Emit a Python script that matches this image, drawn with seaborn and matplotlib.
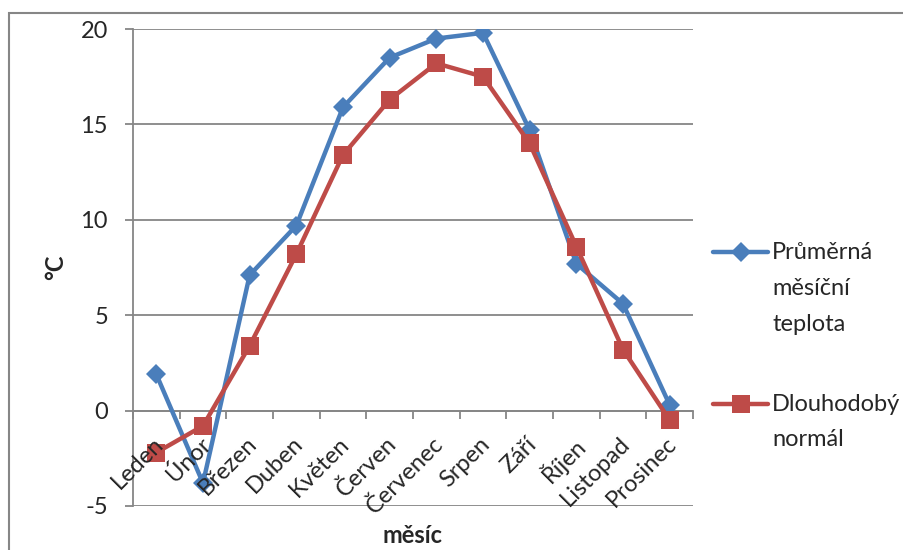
import matplotlib
matplotlib.use("Agg")
import matplotlib.pyplot as plt
import matplotlib.patches as mpatches
import matplotlib.transforms as mtransforms
from matplotlib.legend_handler import HandlerLine2D
from matplotlib.ticker import FixedLocator
import seaborn as sns
import pandas as pd
import numpy as np

months = ["Leden", "Únor", "Březen", "Duben", "Květen", "Červen",
          "Červenec", "Srpen", "Září", "Říjen", "Listopad", "Prosinec"]
avg_temp = [1.9, -3.8, 7.1, 9.7, 15.9, 18.5, 19.5, 19.8, 14.7, 7.7, 5.6, 0.3]
normal_temp = [-2.2, -0.8, 3.4, 8.2, 13.4, 16.3, 18.2, 17.5, 14.0, 8.6, 3.2, -0.5]
series_names = ["Průměrná měsíční teplota", "Dlouhodobý normál"]
legend_labels = ["Průměrná\nměsíční\nteplota", "Dlouhodobý\nnormál"]
y_ticks = [-5, 0, 5, 10, 15, 20]

df = pd.DataFrame({
    "pos": list(range(len(months))) * 2,
    "temp": avg_temp + normal_temp,
    "series": [series_names[0]] * len(months) + [series_names[1]] * len(months),
})

sns.set_theme(style="white")
plt.rcParams["font.family"] = ["Lato", "DejaVu Sans"]
plt.rcParams["axes.unicode_minus"] = False
FS = 17
grey = "#868686"
LS = 1.87  # legend line spacing

fig = plt.figure(figsize=(9.04, 5.5), dpi=100)
ax = fig.add_axes([133 / 904, 1 - 506 / 550, 560 / 904, 477 / 550])

palette = {series_names[0]: "#4A7EBB", series_names[1]: "#BE4B48"}
markers = {series_names[0]: "D", series_names[1]: "s"}
sns.lineplot(data=df, x="pos", y="temp", hue="series", style="series",
             palette=palette, markers=markers, dashes=False, sort=False,
             linewidth=3.2, markersize=11, markeredgewidth=0, ax=ax, legend=True)

for line in ax.lines:
    if line.get_marker() == "s":
        line.set_markersize(12.5)
    elif line.get_marker() == "D":
        line.set_markersize(10)

ax.set_xlim(-0.5, len(months) - 0.5)
ax.set_ylim(min(y_ticks), max(y_ticks))
ax.yaxis.set_major_locator(FixedLocator(y_ticks))
ax.grid(axis="y", color=grey, linewidth=1.3)
ax.set_axisbelow(True)
ax.xaxis.set_zorder(3)  # category labels drawn over the lines, as in the original

for s in ["top", "right"]:
    ax.spines[s].set_visible(False)
ax.spines["left"].set_color(grey)
ax.spines["left"].set_linewidth(1.3)
ax.spines["bottom"].set_position(("data", 0))
ax.spines["bottom"].set_color(grey)
ax.spines["bottom"].set_linewidth(1.3)
ax.spines["bottom"].set_zorder(1)

ax.set_xticks(range(len(months)))
ax.set_xticklabels(months, rotation=45, ha="right", va="top",
                   rotation_mode="anchor", fontsize=FS)
ax.xaxis.set_minor_locator(FixedLocator(np.arange(-0.5, len(months), 1.0)))
ax.tick_params(axis="x", which="major", length=0, pad=4)
ax.tick_params(axis="x", which="minor", length=5.5, width=1.3, color=grey,
               direction="out", bottom=True)
ax.tick_params(axis="y", length=6, width=1.3, color=grey, direction="out",
               left=True, labelsize=FS, pad=12)
offset = mtransforms.ScaledTranslation(-4 / 100, -17 / 100, fig.dpi_scale_trans)
for lab in ax.get_xticklabels():
    lab.set_transform(lab.get_transform() + offset)

ax.set_xlabel("měsíc", fontsize=FS, fontweight="bold", va="baseline")
ax.xaxis.set_label_coords(0.5, (506 - 543) / 477)
ax.set_ylabel("°C", fontsize=FS, fontweight="bold")
ax.yaxis.set_label_coords(-0.118, 0.5)


class ShiftedHandler(HandlerLine2D):
    def __init__(self, n_lines, **kw):
        super().__init__(**kw)
        self.n_lines = n_lines

    def create_artists(self, legend, orig_handle, xdescent, ydescent, width,
                       height, fontsize, trans):
        artists = super().create_artists(legend, orig_handle, xdescent,
                                         ydescent, width, height, fontsize, trans)
        step = fontsize * LS * 0.83 * fig.dpi / 72
        dy = (self.n_lines - 1) / 2 * step
        for a in artists:
            a.set_transform(a.get_transform() + mtransforms.Affine2D().translate(0, dy))
        return artists


handles, labels = ax.get_legend_handles_labels()
hmap = {h: ShiftedHandler(lbl.count("\n") + 1) for h, lbl in zip(handles, legend_labels)}
leg = ax.legend(handles, legend_labels, loc="upper left",
                bbox_to_anchor=(713 / 904, 1 - 242 / 550),
                bbox_transform=fig.transFigure, frameon=False,
                fontsize=FS, handlelength=2.33, handletextpad=0.17,
                labelspacing=2.5, borderaxespad=0, borderpad=0,
                handler_map=hmap)
for t in leg.get_texts():
    t.set_linespacing(LS)

fig.patches.append(mpatches.Rectangle((9 / 904, -0.1), 2, 1 - 13 / 550 + 0.1,
                                      transform=fig.transFigure, fill=False,
                                      edgecolor=grey, linewidth=1.5))

fig.savefig("out.png", dpi=100)
